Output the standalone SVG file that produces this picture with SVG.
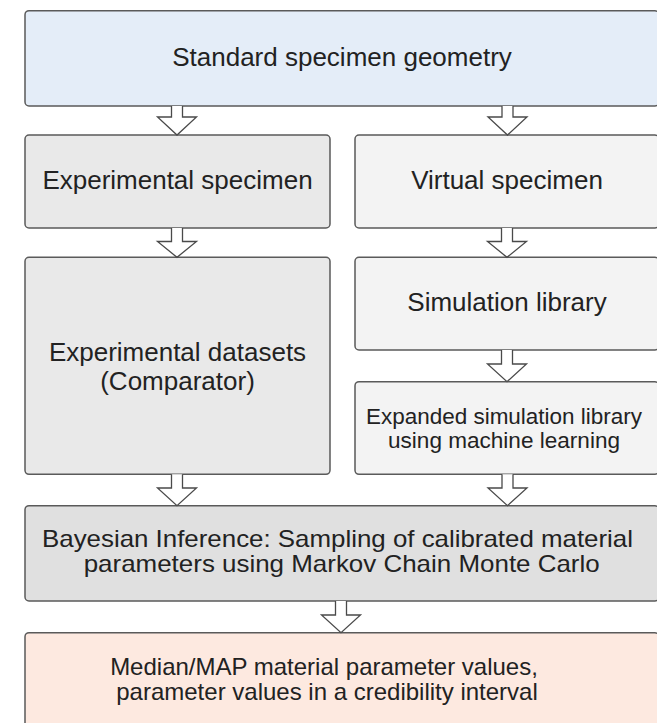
<svg xmlns="http://www.w3.org/2000/svg" width="657" height="723" viewBox="0 0 657 723">
  <style>
    .box { stroke: #5a5a5a; stroke-width: 1.5; }
    .blue { fill: #e4edf8; }
    .grayL { fill: #e9e9e9; }
    .grayR { fill: #f3f3f3; }
    .grayD { fill: #e0e0e0; }
    .peach { fill: #fde9e0; }
    text { font-family: "Liberation Sans", Arial, sans-serif; fill: #222; text-anchor: middle; }
    .t26 { font-size: 26px; }
    .t22 { font-size: 21.5px; }
    .t24 { font-size: 24px; }
    .arrow { fill: #ffffff; stroke: #4a4a4a; stroke-width: 1.3; stroke-linejoin: miter; }
  </style>
  <rect width="657" height="723" fill="#ffffff"/>

  <g id="geometry">
    <rect class="box blue" x="25" y="10.7" width="634" height="95.3" rx="4"/>
    <text class="t26" x="342" y="66">Standard specimen geometry</text>
  </g>

  <g id="experimental-specimen">
    <rect class="box grayL" x="25" y="135" width="305" height="93" rx="4"/>
    <text class="t26" x="177.5" y="189">Experimental specimen</text>
  </g>

  <g id="virtual-specimen">
    <rect class="box grayR" x="355" y="135" width="304" height="93" rx="4"/>
    <text class="t26" x="507" y="189">Virtual specimen</text>
  </g>

  <g id="experimental-datasets">
    <rect class="box grayL" x="25" y="257.3" width="305" height="217" rx="4"/>
    <text class="t26" x="177.5" y="360.5">Experimental datasets</text>
    <text class="t26" x="177.5" y="389.5">(Comparator)</text>
  </g>

  <g id="simulation-library">
    <rect class="box grayR" x="355" y="257.3" width="304" height="92.7" rx="4"/>
    <text class="t26" x="507" y="311">Simulation library</text>
  </g>

  <g id="expanded-library">
    <rect class="box grayR" x="355" y="381.7" width="304" height="92.6" rx="4"/>
    <text class="t22" x="504" y="423.5" textLength="276" lengthAdjust="spacingAndGlyphs">Expanded simulation library</text>
    <text class="t22" x="504" y="447.5" textLength="232" lengthAdjust="spacingAndGlyphs">using machine learning</text>
  </g>

  <g id="bayesian-inference">
    <rect class="box grayD" x="25" y="505.7" width="634" height="95.3" rx="4"/>
    <text class="t24" x="337.5" y="546.7" textLength="591" lengthAdjust="spacingAndGlyphs">Bayesian Inference: Sampling of calibrated material</text>
    <text class="t24" x="341.7" y="572" textLength="516" lengthAdjust="spacingAndGlyphs">parameters using Markov Chain Monte Carlo</text>
  </g>

  <g id="parameter-values">
    <rect class="box peach" x="25" y="632.7" width="634" height="110" rx="4"/>
    <text class="t24" x="324" y="674.5">Median/MAP material parameter values,</text>
    <text class="t24" x="327" y="699.5">parameter values in a credibility interval</text>
  </g>

  <g id="connectors">
    <!-- hollow block arrows: stem, head base, tip -->
    <path class="arrow" d="M171.5 106 V117 H157.5 L177 135 L196.5 117 H182.5 V106"/>
    <path class="arrow" d="M502 106 V117 H488 L507.5 135 L527 117 H513 V106"/>
    <path class="arrow" d="M171.5 228 V241.5 H157.5 L177 257.3 L196.5 241.5 H182.5 V228"/>
    <path class="arrow" d="M501.5 228 V241.5 H487.5 L507 257.3 L526.5 241.5 H512.5 V228"/>
    <path class="arrow" d="M501.5 350 V364 H487.5 L507 381.7 L526.5 364 H512.5 V350"/>
    <path class="arrow" d="M171.5 474.3 V488 H157.5 L177 505.7 L196.5 488 H182.5 V474.3"/>
    <path class="arrow" d="M502 474.3 V488 H488 L507.5 505.7 L527 488 H513 V474.3"/>
    <path class="arrow" d="M335.5 601 V615 H321.5 L341 632.7 L360.5 615 H346.5 V601"/>
  </g>
</svg>
